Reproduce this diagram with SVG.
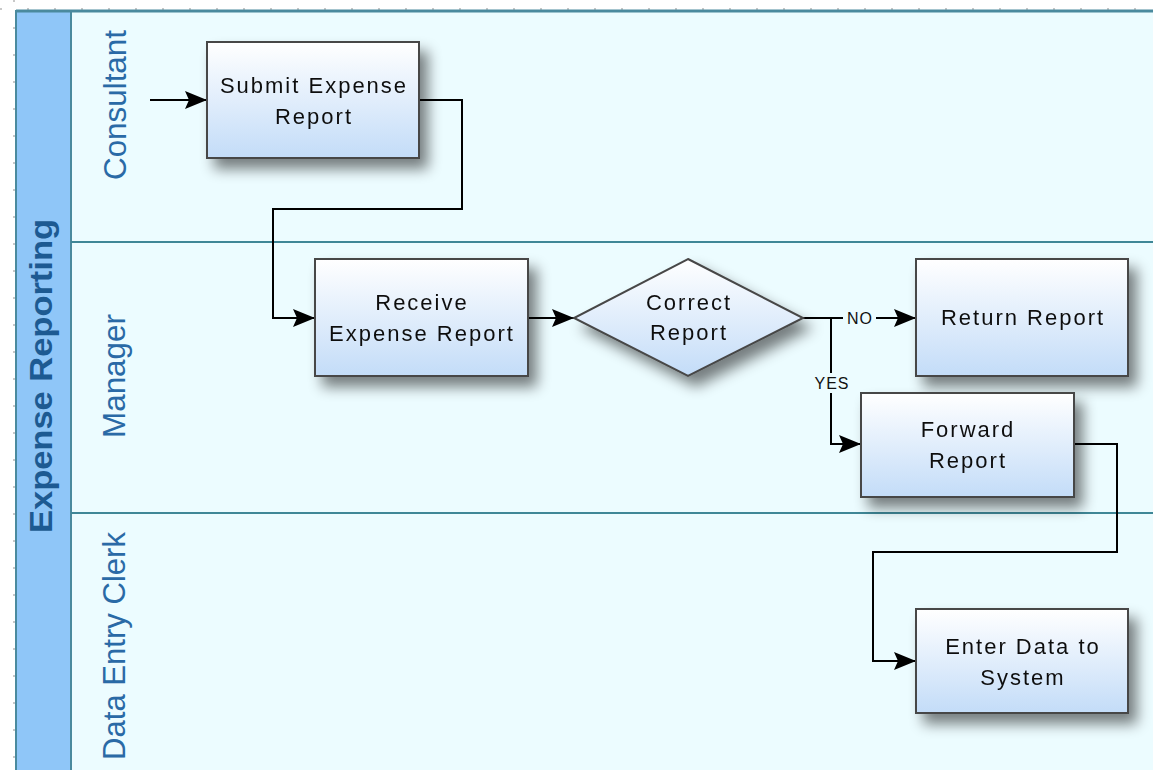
<svg xmlns="http://www.w3.org/2000/svg" width="1153" height="770" viewBox="0 0 1153 770">
<defs>
<linearGradient id="boxg" x1="0" y1="0" x2="0" y2="1">
<stop offset="0" stop-color="#ffffff"/>
<stop offset="1" stop-color="#c3dcf8"/>
</linearGradient>
<filter id="sh" x="-20%" y="-20%" width="150%" height="160%">
<feGaussianBlur in="SourceAlpha" stdDeviation="7"/>
<feOffset dx="8" dy="10" result="b"/>
<feComponentTransfer><feFuncA type="linear" slope="0.5"/></feComponentTransfer>
<feMerge><feMergeNode/><feMergeNode in="SourceGraphic"/></feMerge>
</filter>
<marker id="arr" markerUnits="userSpaceOnUse" markerWidth="24" markerHeight="20" refX="22" refY="9" orient="auto">
<path d="M0,0 L22,9 L0,18 L4,9 Z" fill="#000"/>
</marker>
<style>
.box{fill:url(#boxg);stroke:#474747;stroke-width:2}
.t{font-family:"Liberation Sans",Arial,sans-serif;font-size:22px;fill:#111;text-anchor:middle;letter-spacing:2px}
.lane{font-family:"Liberation Sans",Arial,sans-serif;font-size:31px;fill:#2a6aa6;text-anchor:middle}
.c{fill:none;stroke:#000;stroke-width:2}
.lbl{font-family:"Liberation Sans",Arial,sans-serif;font-size:16px;fill:#111;text-anchor:middle;letter-spacing:1px}
</style>
</defs>
<rect width="1153" height="770" fill="#ffffff"/>
<line x1="0" y1="9" x2="1153" y2="9" stroke="#c8c8c8" stroke-width="2" stroke-dasharray="2 25"/>
<line x1="14" y1="0" x2="14" y2="770" stroke="#c8c8c8" stroke-width="2" stroke-dasharray="2 25"/>

<g id="pool">
<rect x="16" y="11" width="1150" height="770" fill="#ecfcff" stroke="#4a8a9e" stroke-width="2"/>
<rect x="17" y="12" width="54" height="770" fill="#8fc6f8"/>
<line x1="71" y1="11" x2="71" y2="770" stroke="#4a8a9e" stroke-width="2"/>
<line x1="16" y1="11" x2="1153" y2="11" stroke="#4a8a9e" stroke-width="3"/>
<text transform="translate(52,376) rotate(-90)" font-family="'Liberation Sans',Arial,sans-serif" font-size="32" font-weight="bold" fill="#1d5a92" text-anchor="middle" textLength="314" lengthAdjust="spacingAndGlyphs">Expense Reporting</text>
</g>
<g id="lane-consultant">
<text class="lane" transform="translate(126,105) rotate(-90)" textLength="150" lengthAdjust="spacingAndGlyphs">Consultant</text>
</g>
<g id="lane-manager">
<line x1="71" y1="242" x2="1153" y2="242" stroke="#3f8797" stroke-width="2"/>
<text class="lane" transform="translate(125,376) rotate(-90)" textLength="124" lengthAdjust="spacingAndGlyphs">Manager</text>
</g>
<g id="lane-clerk">
<line x1="71" y1="513" x2="1153" y2="513" stroke="#3f8797" stroke-width="2"/>
<text class="lane" transform="translate(125,646) rotate(-90)" textLength="228" lengthAdjust="spacingAndGlyphs">Data Entry Clerk</text>
</g>

<g id="connectors">
<path class="c" d="M150,100 H207" marker-end="url(#arr)"/>
<path class="c" d="M419,100 H462 V209 H273 V318 H315" marker-end="url(#arr)"/>
<path class="c" d="M528,318 H574" marker-end="url(#arr)"/>
<path class="c" d="M803,318 H916" marker-end="url(#arr)"/>
<path class="c" d="M831,318 V444 H861" marker-end="url(#arr)"/>
<path class="c" d="M1074,444 H1117 V552 H873 V661 H916" marker-end="url(#arr)"/>
<rect x="843" y="308" width="33" height="20" fill="#ecfcff"/>
<text class="lbl" x="860" y="324">NO</text>
<rect x="811" y="373" width="40" height="20" fill="#ecfcff"/>
<text class="lbl" x="832" y="389">YES</text>
</g>

<g id="submit" filter="url(#sh)">
<rect class="box" x="207" y="42" width="212" height="116"/>
<text class="t" x="314" y="93">Submit Expense</text>
<text class="t" x="314" y="124">Report</text>
</g>
<g id="receive" filter="url(#sh)">
<rect class="box" x="315" y="259" width="213" height="117"/>
<text class="t" x="422" y="310">Receive</text>
<text class="t" x="422" y="341">Expense Report</text>
</g>
<g id="correct" filter="url(#sh)">
<polygon class="box" points="688,259 803,318 688,376 574,318"/>
<text class="t" x="689" y="310">Correct</text>
<text class="t" x="689" y="340">Report</text>
</g>
<g id="return" filter="url(#sh)">
<rect class="box" x="916" y="259" width="212" height="117"/>
<text class="t" x="1023" y="325">Return Report</text>
</g>
<g id="forward" filter="url(#sh)">
<rect class="box" x="861" y="393" width="213" height="104"/>
<text class="t" x="968" y="437">Forward</text>
<text class="t" x="968" y="468">Report</text>
</g>
<g id="enter" filter="url(#sh)">
<rect class="box" x="916" y="609" width="212" height="104"/>
<text class="t" x="1023" y="654">Enter Data to</text>
<text class="t" x="1023" y="685">System</text>
</g>
</svg>
